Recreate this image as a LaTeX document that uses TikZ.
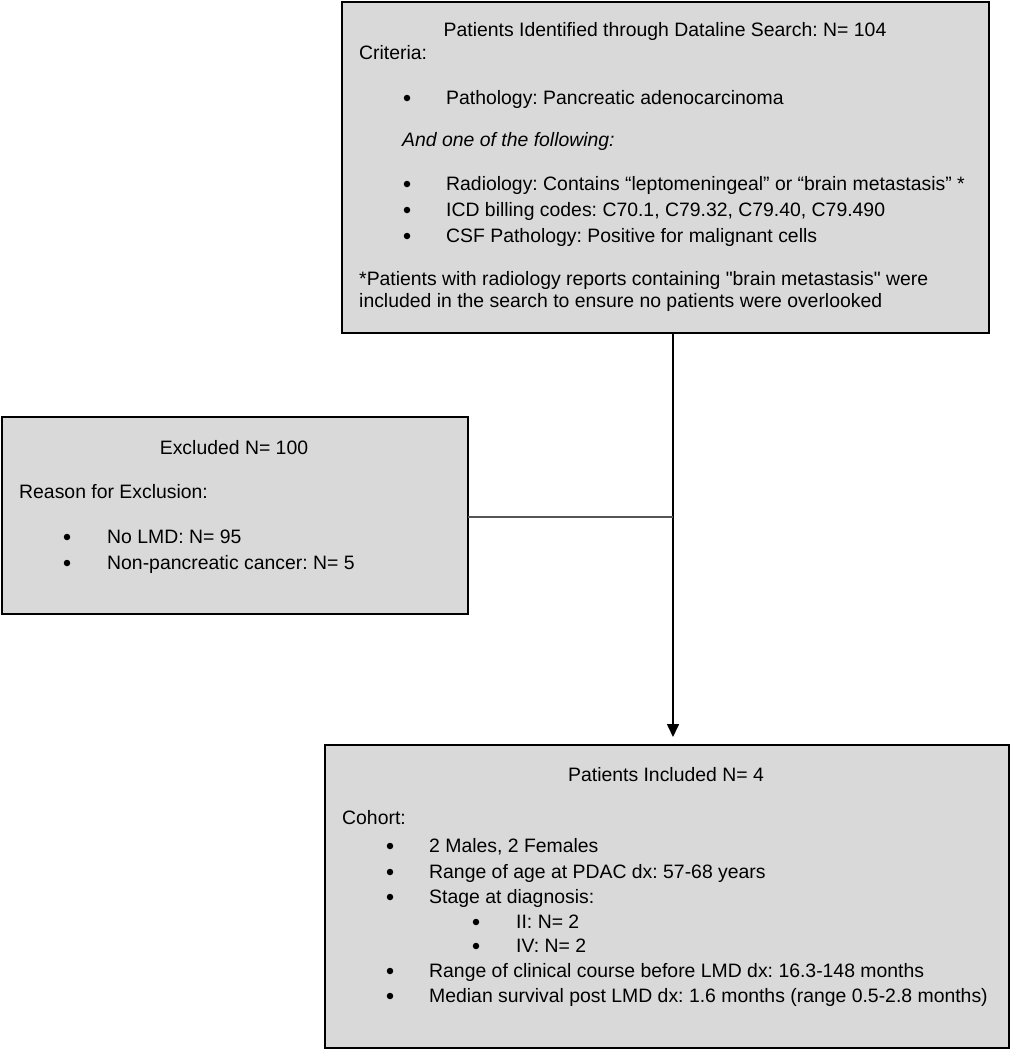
\documentclass[tikz,border=0pt]{standalone}
\usepackage{fontspec}
\setmainfont{Liberation Sans}
\usetikzlibrary{arrows.meta}
\definecolor{boxgray}{RGB}{217,217,217}
\definecolor{linkgray}{RGB}{85,85,85}
\frenchspacing
\begin{document}
\frenchspacing
\begin{tikzpicture}[x=1pt,y=-1pt,
  box/.style={draw=black, line width=2pt, fill=boxgray, inner sep=0pt, outer sep=0pt, anchor=north west},
  txt/.style={inner sep=0pt, anchor=base west, font=\fontsize{19.4}{25}\selectfont\frenchspacing},
  ttl/.style={inner sep=0pt, anchor=base, font=\fontsize{19.4}{25}\selectfont\frenchspacing},
  bul/.style={circle, fill=black, inner sep=0pt, minimum size=6.5pt},
  conn/.style={line width=1.6pt, draw=black},
  tip/.style={-{Triangle[length=13pt,width=12pt]}}
]
\useasboundingbox (0,0) rectangle (1011,1050);

% boxes
\node[box, minimum width=647pt, minimum height=331pt] (top) at (342,1.5) {};
\node[box, minimum width=466pt, minimum height=197pt] (excl) at (2,417) {};
\node[box, minimum width=684pt, minimum height=303pt] (bot) at (325,745) {};

% top box texts
\node[ttl] (t0) at (665,36) {Patients Identified through Dataline Search: N= 104};
\node[txt] (t1) at (359,59) {Criteria:};
\node[bul] (tb1) at (407,98) {};
\node[txt] (t2) at (446,104) {Pathology: Pancreatic adenocarcinoma};
\node[txt, font=\fontsize{19.4}{25}\selectfont\itshape] (t3) at (402,146) {And one of the following:};
\node[bul] (tb2) at (407,184) {};
\node[txt] (t4) at (446,190) {Radiology: Contains “leptomeningeal” or “brain metastasis” *};
\node[bul] (tb3) at (407,210) {};
\node[txt] (t5) at (446,216) {ICD billing codes: C70.1, C79.32, C79.40, C79.490};
\node[bul] (tb4) at (407,236) {};
\node[txt] (t6) at (446,242) {CSF Pathology: Positive for malignant cells};
\node[txt] (t7) at (359,285) {*Patients with radiology reports containing \textquotedbl brain metastasis\textquotedbl{} were};
\node[txt] (t8) at (359,307) {included in the search to ensure no patients were overlooked};

% excluded box texts
\node[ttl] (e0) at (234,454) {Excluded N= 100};
\node[txt] (e1) at (19,498) {Reason for Exclusion:};
\node[bul] (eb1) at (67,537) {};
\node[txt] (e2) at (107,543) {No LMD: N= 95};
\node[bul] (eb2) at (67,563) {};
\node[txt] (e3) at (107,569) {Non-pancreatic cancer: N= 5};

% included box texts
\node[ttl] (i0) at (666,781) {Patients Included N= 4};
\node[txt] (i1) at (342,824) {Cohort:};
\node[bul] (ib1) at (390,846) {};
\node[txt] (i2) at (429,852) {2 Males, 2 Females};
\node[bul] (ib2) at (390,872) {};
\node[txt] (i3) at (429,878) {Range of age at PDAC dx: 57-68 years};
\node[bul] (ib3) at (390,897) {};
\node[txt] (i4) at (429,903) {Stage at diagnosis:};
\node[bul] (ib4) at (476,922) {};
\node[txt] (i5) at (516,928) {II: N= 2};
\node[bul] (ib5) at (476,946) {};
\node[txt] (i6) at (516,952) {IV: N= 2};
\node[bul] (ib6) at (390,971) {};
\node[txt] (i7) at (429,977) {Range of clinical course before LMD dx: 16.3-148 months};
\node[bul] (ib7) at (390,996) {};
\node[txt] (i8) at (429,1002) {Median survival post LMD dx: 1.6 months (range 0.5-2.8 months)};

% connectors
\coordinate (j) at (673,517);
\draw[conn, tip, shorten >=8pt] (top.south -| j) -- (bot.north -| j);
\draw[line width=2pt, draw=linkgray] (excl.east |- j) -- (j);
\end{tikzpicture}
\end{document}
